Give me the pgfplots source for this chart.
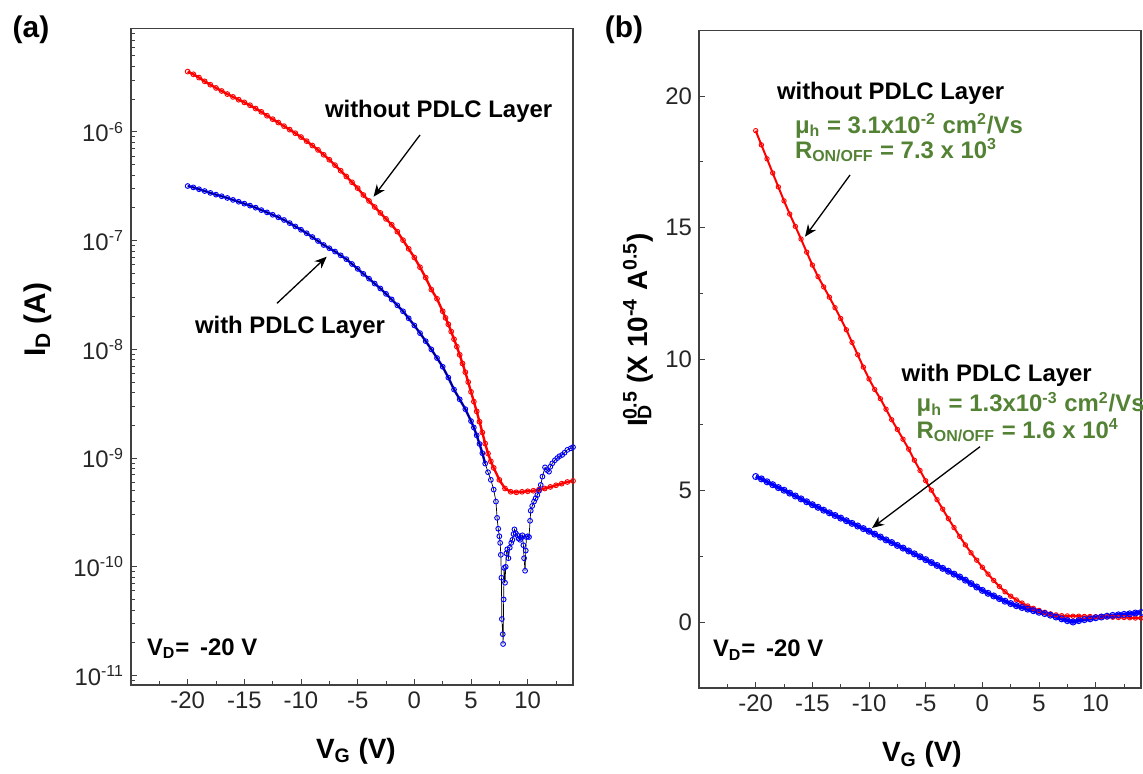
\documentclass[border=0pt]{standalone}
\usepackage{fontspec}
\setmainfont{Liberation Sans}
\usepackage{pgfplots}
\usepackage{pgfplotstable}
\pgfplotsset{compat=1.18}
\usetikzlibrary{arrows.meta}
\definecolor{anngreen}{RGB}{84,130,53}
\newcommand\annfont{\fontsize{12}{14}\selectfont\bfseries}
\newcommand\labfont{\fontsize{14}{16}\selectfont\bfseries}

\pgfplotstableread{
V I
-20 3.59e-6
-19.5 3.39e-6
-19 3.16e-6
-18.5 2.92e-6
-18 2.72e-6
-17.5 2.54e-6
-17 2.38e-6
-16.5 2.23e-6
-16 2.10e-6
-15.5 1.98e-6
-15 1.87e-6
-14.5 1.76e-6
-14 1.64e-6
-13.5 1.53e-6
-13 1.41e-6
-12.5 1.31e-6
-12 1.22e-6
-11.5 1.13e-6
-11 1.05e-6
-10.5 9.73e-7
-10 8.97e-7
-9.5 8.22e-7
-9 7.50e-7
-8.5 6.84e-7
-8 6.17e-7
-7.5 5.55e-7
-7 4.95e-7
-6.5 4.40e-7
-6 3.89e-7
-5.5 3.44e-7
-5 3.04e-7
-4.5 2.63e-7
-4 2.32e-7
-3.5 2.04e-7
-3 1.80e-7
-2.5 1.585e-7
-2 1.40e-7
-1.5 1.21e-7
-1 1.01e-7
-0.5 8.41e-8
0 7.00e-8
0.5 5.69e-8
1 4.57e-8
1.5 3.55e-8
2 2.92e-8
2.5 2.24e-8
2.75 1.95e-8
3 1.70e-8
3.25 1.46e-8
3.5 1.24e-8
3.75 1.06e-8
4 8.91e-9
4.25 7.41e-9
4.5 6.17e-9
4.75 5.01e-9
5 4.07e-9
5.25 3.31e-9
5.5 2.69e-9
5.75 2.16e-9
6 1.72e-9
6.25 1.36e-9
6.5 1.10e-9
6.75 9.33e-10
7 8.13e-10
7.5 6.31e-10
8 5.25e-10
8.5 4.90e-10
9 4.84e-10
9.5 4.90e-10
10 4.95e-10
10.5 5.01e-10
11 5.13e-10
11.5 5.25e-10
12 5.43e-10
12.5 5.62e-10
13 5.82e-10
13.5 6.03e-10
14 6.17e-10
}\redA

\pgfplotstableread{
V I
-20 3.18e-7
-19.5 3.09e-7
-19 2.97e-7
-18.5 2.86e-7
-18 2.75e-7
-17.5 2.65e-7
-17 2.56e-7
-16.5 2.47e-7
-16 2.37e-7
-15.5 2.28e-7
-15 2.19e-7
-14.5 2.10e-7
-14 2.01e-7
-13.5 1.91e-7
-13 1.82e-7
-12.5 1.73e-7
-12 1.64e-7
-11.5 1.55e-7
-11 1.45e-7
-10.5 1.35e-7
-10 1.26e-7
-9.5 1.17e-7
-9 1.08e-7
-8.5 9.93e-8
-8 9.12e-8
-7.5 8.51e-8
-7 7.94e-8
-6.5 7.33e-8
-6 6.76e-8
-5.5 6.10e-8
-5 5.50e-8
-4.5 4.95e-8
-4 4.47e-8
-3.5 4.03e-8
-3 3.63e-8
-2.5 3.24e-8
-2 2.88e-8
-1.5 2.54e-8
-1 2.24e-8
-0.5 1.93e-8
0 1.66e-8
0.5 1.41e-8
1 1.19e-8
1.5 1.00e-8
2 8.32e-9
2.5 6.92e-9
3 5.50e-9
3.5 4.27e-9
4 3.47e-9
4.5 2.82e-9
5 2.19e-9
5.25 1.91e-9
5.5 1.62e-9
5.75 1.35e-9
6 1.11e-9
6.25 8.91e-10
6.5 7.41e-10
6.75 6.31e-10
7.0 5.13e-10
7.2 3.98e-10
7.3 2.82e-10
7.4 2.24e-10
7.5 1.91e-10
7.57 1.66e-10
7.63 1.29e-10
7.68 7.94e-11
7.72 3.31e-11
7.80 2.40e-11
7.83 1.95e-11
7.88 5.01e-11
7.92 9.77e-11
8.0 7.14e-11
8.06 1.00e-10
8.12 1.33e-10
8.2 1.45e-10
8.3 1.20e-10
8.42 1.50e-10
8.55 1.66e-10
8.65 1.77e-10
8.75 2.00e-10
8.83 2.21e-10
8.95 2.04e-10
9.09 1.95e-10
9.2 1.82e-10
9.33 1.77e-10
9.45 1.86e-10
9.53 1.95e-10
9.62 1.58e-10
9.68 1.20e-10
9.77 9.20e-11
9.83 1.41e-10
9.89 1.88e-10
10.0 1.91e-10
10.12 1.88e-10
10.21 2.65e-10
10.27 3.28e-10
10.4 3.63e-10
10.56 3.98e-10
10.7 4.27e-10
10.85 4.57e-10
11.0 5.01e-10
11.15 5.66e-10
11.3 6.76e-10
11.53 8.22e-10
11.7 7.76e-10
11.88 7.50e-10
12.0 8.32e-10
12.17 8.95e-10
12.4 9.55e-10
12.61 1.00e-9
12.8 1.04e-9
13.05 1.07e-9
13.25 1.12e-9
13.5 1.19e-9
13.8 1.23e-9
14.0 1.26e-9
}\blueA

\pgfplotstableread{
V S
-20 18.69
-19.5 18.15
-19 17.62
-18.5 17.08
-18 16.55
-17.5 16.02
-17 15.52
-16.5 15.05
-16 14.57
-15.5 14.07
-15 13.58
-14.5 13.14
-14 12.75
-13.5 12.36
-13 11.96
-12.5 11.55
-12 11.12
-11.5 10.64
-11 10.17
-10.5 9.70
-10 9.25
-9.5 8.85
-9 8.50
-8.5 8.10
-8 7.70
-7.5 7.33
-7 6.96
-6.5 6.58
-6 6.16
-5.5 5.77
-5 5.38
-4.5 5.02
-4 4.66
-3.5 4.30
-3 3.94
-2.5 3.60
-2 3.26
-1.5 2.94
-1 2.64
-0.5 2.36
0 2.09
0.5 1.83
1 1.59
1.5 1.36
2 1.16
2.5 0.99
3 0.85
3.5 0.73
4 0.62
4.5 0.53
5 0.45
5.5 0.38
6 0.32
6.5 0.28
7 0.25
7.5 0.24
8 0.23
8.5 0.23
9 0.22
9.5 0.22
10 0.21
10.5 0.21
11 0.20
11.5 0.19
12 0.18
12.5 0.18
13 0.17
13.5 0.16
14 0.16
}\redB

\pgfplotstableread{
V S
-20 5.54
-19.5 5.45
-19 5.34
-18.5 5.23
-18 5.12
-17.5 5.02
-17 4.91
-16.5 4.80
-16 4.69
-15.5 4.58
-15 4.47
-14.5 4.37
-14 4.26
-13.5 4.16
-13 4.06
-12.5 3.96
-12 3.86
-11.5 3.76
-11 3.66
-10.5 3.56
-10 3.46
-9.5 3.35
-9 3.24
-8.5 3.13
-8 3.03
-7.5 2.92
-7 2.82
-6.5 2.71
-6 2.60
-5.5 2.49
-5 2.38
-4.5 2.27
-4 2.16
-3.5 2.05
-3 1.94
-2.5 1.83
-2 1.72
-1.5 1.60
-1 1.47
-0.5 1.34
0 1.21
0.5 1.10
1 1.00
1.5 0.90
2 0.80
2.5 0.71
3 0.63
3.5 0.56
4 0.50
4.5 0.44
5 0.38
5.5 0.33
6 0.27
6.5 0.20
7 0.13
7.5 0.06
8 0.01
8.5 0.06
9 0.10
9.5 0.13
10 0.17
10.5 0.20
11 0.23
11.5 0.26
12 0.28
12.5 0.30
13 0.32
13.5 0.35
14 0.37
}\blueB

\pgfplotsset{
  myax/.style={
    scale only axis, width=221bp, anchor=south west,
    xmin=-25, xmax=14,
    xtick={-20,-15,-10,-5,0,5,10},
    xticklabels={-20,-15,-10,-5,0,5,10},
    minor xtick={-22.5,-17.5,-12.5,-7.5,-2.5,2.5,7.5,12.5},
    tick pos=left, tick align=inside,
    major tick length=3bp, minor tick length=1.8bp,
    axis line style={black!75, line width=0.6bp},
    every tick/.append style={black!75, line width=0.5bp},
    ticklabel style={font=\fontsize{12}{14}\selectfont, text=black!85},
    clip=true,
  }
}

\begin{document}
\begin{tikzpicture}[x=0.5bp,y=0.5bp]
\path[use as bounding box] (0,0) rectangle (1143,773);

% ---------- panel (a) ----------
\begin{axis}[myax, at={(65.5bp,44bp)}, height=328.4bp,
  ymode=log, ymin=8.18e-12, ymax=9.0e-6,
  ytick={1e-11,1e-10,1e-9,1e-8,1e-7,1e-6},
  yticklabels={10\textsuperscript{-11},10\textsuperscript{-10},10\textsuperscript{-9},10\textsuperscript{-8},10\textsuperscript{-7},10\textsuperscript{-6}},
  minor ytick={9e-12,2e-11,3e-11,4e-11,5e-11,6e-11,7e-11,8e-11,9e-11,2e-10,3e-10,4e-10,5e-10,6e-10,7e-10,8e-10,9e-10,2e-9,3e-9,4e-9,5e-9,6e-9,7e-9,8e-9,9e-9,2e-8,3e-8,4e-8,5e-8,6e-8,7e-8,8e-8,9e-8,2e-7,3e-7,4e-7,5e-7,6e-7,7e-7,8e-7,9e-7,2e-6,3e-6,4e-6,5e-6,6e-6,7e-6,8e-6},
]
\addplot[red, line width=1.2bp, mark=o, mark size=1.2bp, mark options={solid, line width=0.45bp}] table[x=V,y=I] {\redA};
\addplot[blue, line width=1.2bp, restrict x to domain=-20:6.3] table[x=V,y=I] {\blueA};
\addplot[black, line width=0.35bp, mark=o, mark size=1.2bp, mark options={solid, draw=blue, line width=0.45bp}] table[x=V,y=I] {\blueA};
\end{axis}

% ---------- panel (b) ----------
\begin{axis}[myax, at={(349.5bp,42.5bp)}, height=328.75bp,
  ymin=-2.5, ymax=22.5,
  ytick={0,5,10,15,20},
  yticklabels={0,5,10,15,20},
  minor ytick={2.5,7.5,12.5,17.5},
]
\addplot[red, line width=1.0bp, mark=o, mark size=1.1bp, mark options={solid, line width=0.45bp}] table[x=V,y=S] {\redB};
\addplot[blue, line width=1.8bp, mark=o, mark size=1.5bp, mark options={solid, line width=0.5bp}] table[x=V,y=S] {\blueB};
\end{axis}

% ---------- annotations ----------
\tikzset{lab/.style={inner sep=0pt, outer sep=0pt}}
\node[lab, font=\fontsize{15}{17}\selectfont\bfseries] at (31,743) {(a)};
\node[lab, font=\fontsize{15}{17}\selectfont\bfseries] at (624,743) {(b)};

\node[lab, anchor=base west, font=\labfont] at (316,14.7) {V\textsubscript{G} (V)};
\node[lab, anchor=base west, font=\labfont] at (882,11.3) {V\textsubscript{G} (V)};
\node[lab, anchor=base west, rotate=90, font=\fontsize{15}{17}\selectfont\bfseries] at (45.5,416) {I\textsubscript{D} (A)};
\node[lab, anchor=base west, rotate=90, font=\labfont] at (647,346) {I\rlap{\textsubscript{D}}\textsuperscript{0.5} (X 10\textsuperscript{-4} A\textsuperscript{0.5})};

\node[lab, anchor=base west, font=\annfont] at (325,655.7) {without PDLC Layer};
\node[lab, anchor=base west, font=\annfont] at (195,439.5) {with PDLC Layer};
\node[lab, anchor=base west, font=\annfont] at (147,118) {V\textsubscript{D}=\hspace{0.45em}-20 V};

\node[lab, anchor=base west, font=\annfont] at (777,673.5) {without PDLC Layer};
\node[lab, anchor=base west, font=\annfont, text=anngreen] at (795,639.7) {μ\textsubscript{h} = 3.1x10\textsuperscript{-2} cm\textsuperscript{2}/Vs};
\node[lab, anchor=base west, font=\annfont, text=anngreen] at (795,614.7) {R\textsubscript{ON/OFF} = 7.3 x 10\textsuperscript{3}};
\node[lab, anchor=base west, font=\annfont] at (901.7,391.3) {with PDLC Layer};
\node[lab, anchor=base west, font=\annfont, text=anngreen] at (916.7,361.3) {μ\textsubscript{h} = 1.3x10\textsuperscript{-3} cm\textsuperscript{2}/Vs};
\node[lab, anchor=base west, font=\annfont, text=anngreen] at (916.7,334.7) {R\textsubscript{ON/OFF} = 1.6 x 10\textsuperscript{4}};
\node[lab, anchor=base west, font=\annfont] at (713,116.3) {V\textsubscript{D}=\hspace{0.45em}-20 V};

\tikzset{arr/.style={-{Stealth[length=6bp,width=5bp]}, line width=0.65bp, black}}
\draw[arr] (420,638) -- (373.6,576.3);
\draw[arr] (277,469.7) -- (326.7,516.3);
\draw[arr] (850,598) -- (805,536.3);
\draw[arr] (980,326.3) -- (872,245);
\end{tikzpicture}
\end{document}
